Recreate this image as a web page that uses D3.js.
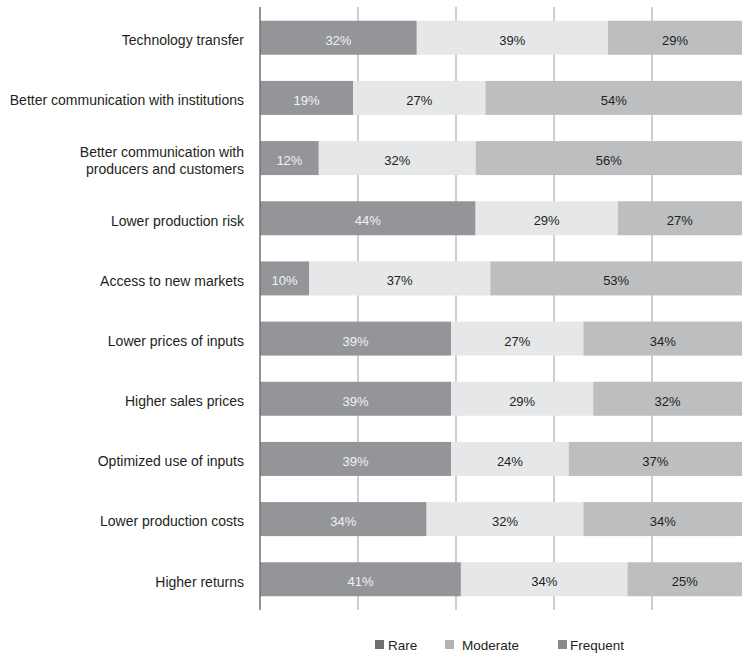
<!DOCTYPE html>
<html>
<head>
<meta charset="utf-8">
<script src="https://cdn.jsdelivr.net/npm/d3@7/dist/d3.min.js"></script>
<style>
  html, body { margin: 0; padding: 0; background: #ffffff; }
  svg { display: block; }
  text { font-family: "Liberation Sans", Arial, sans-serif; }
</style>
</head>
<body>
<svg id="chart" width="742" height="655"></svg>
<script>
const categories = [
  ["Technology transfer"],
  ["Better communication with institutions"],
  ["Better communication with", "producers and customers"],
  ["Lower production risk"],
  ["Access to new markets"],
  ["Lower prices of inputs"],
  ["Higher sales prices"],
  ["Optimized use of inputs"],
  ["Lower production costs"],
  ["Higher returns"]
];
const seriesA = [32, 19, 12, 44, 10, 39, 39, 39, 34, 41];
const seriesB = [39, 27, 32, 29, 37, 27, 29, 24, 32, 34];
const seriesC = [29, 54, 56, 27, 53, 34, 32, 37, 34, 25];
const gridTicks = [0, 20, 40, 60, 80, 100];
const legendLabels = ["Rare", "Moderate", "Frequent"];

const W = 742, H = 655;
const svg = d3.select("#chart");

const x = d3.scaleLinear().domain([0, 100]).range([260, 750]);
const y = d3.scaleBand().domain(d3.range(categories.length))
  .range([7.5, 609.5]).paddingInner(0.435).paddingOuter(0.22);

const segColors = ["#939598", "#e6e7e8", "#bcbec0"];
const segText = ["#f2f2f2", "#231f20", "#231f20"];
const legendColors = ["#6d6e70", "#b3b3b3", "#888888"];
const textShift = 2.5;

// gridlines
svg.append("g").selectAll("line").data(gridTicks.filter(t => t > 0)).join("line")
  .attr("x1", d => x(d)).attr("x2", d => x(d))
  .attr("y1", 7).attr("y2", 610)
  .attr("stroke", "#9d9d9d").attr("stroke-width", 1);

// bars
const rows = categories.map((c, i) => {
  const vals = [seriesA[i], seriesB[i], seriesC[i]];
  let acc = 0;
  return vals.map((v, k) => { const s = acc; acc += v; return {i, k, v, s, e: acc}; });
});
const segs = rows.flat();
const g = svg.append("g");
g.selectAll("rect").data(segs).join("rect")
  .attr("x", d => x(d.s))
  .attr("width", d => Math.min(x(d.e), W) - x(d.s))
  .attr("y", d => y(d.i))
  .attr("height", y.bandwidth())
  .attr("fill", d => segColors[d.k]);

g.selectAll("text").data(segs).join("text")
  .attr("x", d => (x(d.s) + Math.min(x(d.e), W)) / 2)
  .attr("y", d => y(d.i) + y.bandwidth() / 2 + textShift)
  .attr("dy", "0.35em")
  .attr("text-anchor", "middle")
  .attr("font-size", 13)
  .attr("fill", d => segText[d.k])
  .text(d => d.v + "%");

// axis line
svg.append("line")
  .attr("x1", x(0)).attr("x2", x(0))
  .attr("y1", 7).attr("y2", 610)
  .attr("stroke", "#6f6f6f").attr("stroke-width", 1.5);

// category labels
const lab = svg.append("g");
categories.forEach((lines, i) => {
  const cy = y(i) + y.bandwidth() / 2 + textShift;
  const lh = 17;
  const t = lab.append("text")
    .attr("text-anchor", "end")
    .attr("font-size", 14)
    .attr("fill", "#231f20");
  lines.forEach((ln, j) => {
    t.append("tspan")
      .attr("x", 244)
      .attr("y", cy + (j - (lines.length - 1) / 2) * lh)
      .attr("dy", "0.35em")
      .text(ln);
  });
});

// legend
const legX = [375, 445, 558];
const legTX = [388, 462, 570];
const lg = svg.append("g");
legendLabels.forEach((l, k) => {
  lg.append("rect").attr("x", legX[k]).attr("y", 640).attr("width", 9).attr("height", 9)
    .attr("fill", legendColors[k]);
  lg.append("text").attr("x", legTX[k]).attr("y", 649.5)
    .attr("font-size", 13.5).attr("fill", "#231f20").text(l);
});
</script>
</body>
</html>
